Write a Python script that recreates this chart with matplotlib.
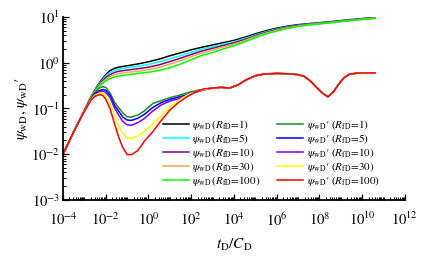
import numpy as np
import matplotlib
matplotlib.use('Agg')
from matplotlib import pyplot as plt
from matplotlib.ticker import LogLocator, NullFormatter, FixedLocator


# time grid for pressure curves, log10(tD/CD)
p_logt = [-4, -3.5, -3, -2.7, -2.4, -2.2, -2.0, -1.8, -1.6, -1.4, -1.2, -0.8, -0.4, 0, 0.5,
          1, 1.5, 2, 2.5, 3, 3.5, 4, 4.5, 5, 5.5, 6, 6.5, 7, 7.5, 8, 8.5, 9, 9.5, 10, 10.6]

p_r1 = [.0100, .031, .092, .178, .31, .42, .55, .67, .75, .80, .83, .89, .96, 1.05, 1.2,
        1.42, 1.65, 1.92, 2.18, 2.45, 2.75, 3.08, 3.6, 4.3, 5.0, 5.7, 6.3, 6.8, 7.15, 7.5, 7.9, 8.35, 8.8, 9.25, 9.8]
p_r5 = [.0100, .031, .091, .176, .30, .40, .51, .61, .68, .72, .75, .80, .85, .92, 1.04,
        1.22, 1.43, 1.70, 1.97, 2.25, 2.55, 2.88, 3.38, 4.05, 4.75, 5.45, 6.1, 6.6, 7.0, 7.35, 7.75, 8.2, 8.65, 9.1, 9.65]
p_r10 = [.0100, .031, .090, .173, .29, .38, .47, .55, .61, .65, .67, .71, .75, .80, .90,
         1.06, 1.26, 1.52, 1.80, 2.07, 2.38, 2.72, 3.2, 3.9, 4.6, 5.3, 5.95, 6.5, 6.9, 7.25, 7.65, 8.1, 8.55, 9.0, 9.55]
p_r30 = [.0100, .031, .089, .170, .28, .36, .43, .50, .55, .58, .60, .63, .66, .70, .79,
         .93, 1.11, 1.36, 1.63, 1.88, 2.2, 2.55, 3.05, 3.75, 4.45, 5.15, 5.8, 6.35, 6.8, 7.15, 7.55, 8.0, 8.45, 8.9, 9.45]
p_r100 = [.0100, .031, .088, .166, .27, .34, .40, .45, .49, .51, .53, .56, .59, .62, .68,
          .78, .94, 1.17, 1.45, 1.67, 2.0, 2.35, 2.85, 3.55, 4.25, 4.95, 5.6, 6.2, 6.65, 7.05, 7.45, 7.9, 8.35, 8.8, 9.3]

# time grid for derivative curves
d_logt = [-4, -3.5, -3, -2.7, -2.5, -2.3, -2.15, -2.0, -1.8, -1.6, -1.4, -1.2, -1.0, -0.8, -0.5,
          -0.2, 0.2, 0.6, 1.0, 1.4, 1.8, 2.2, 2.6, 3.0,
          3.4, 3.8, 4.2, 4.6, 5.0, 5.4, 6.0, 6.6, 7.0, 7.3, 7.6, 7.9, 8.15, 8.4, 8.65, 8.9,
          9.15, 9.4, 9.8, 10.2, 10.6]

# late time part is the same for every R
d_late = [.29, .28, .33, .43, .52, .565, .585, .57, .55, .50, .39, .28, .215, .18, .23, .34,
          .47, .56, .595, .60, .60]

d_r1 = [.0100, .031, .088, .165, .225, .28, .30, .29, .22, .14, .105, .08, .066, .065, .072,
        .088, .128, .15, .172, .193, .22, .245, .265, .28] + d_late
d_r5 = [.0100, .031, .088, .160, .21, .245, .26, .25, .195, .12, .088, .065, .056, .055, .061,
        .074, .105, .135, .158, .177, .20, .235, .26, .28] + d_late
d_r10 = [.0100, .031, .088, .158, .205, .23, .24, .225, .175, .105, .072, .052, .044, .043, .049,
         .060, .088, .12, .145, .163, .19, .225, .255, .278] + d_late
d_r30 = [.0100, .031, .087, .155, .195, .215, .22, .19, .13, .075, .042, .028, .023, .022, .025,
         .032, .045, .07, .105, .15, .195, .235, .26, .278] + d_late
d_r100 = [.0100, .031, .087, .150, .185, .20, .195, .16, .10, .048, .024, .014, .0098, .0098, .012,
          .019, .031, .055, .092, .135, .18, .232, .268, .28] + d_late

r_values = ['1', '5', '10', '30', '100']
p_series = [p_r1, p_r5, p_r10, p_r30, p_r100]
d_series = [d_r1, d_r5, d_r10, d_r30, d_r100]
p_colors = ['#000000', '#00FFFF', '#800080', '#FFA64D', '#00FF00']
d_colors = ['#1E8C1E', '#0000FF', '#7F00FF', '#FFFF00', '#FF0000']


def main():
    plt.rcParams['font.family'] = 'STIXGeneral'
    plt.rcParams['mathtext.fontset'] = 'stix'

    fig = plt.figure(figsize=(4.24, 2.61), dpi=100)
    ax = fig.add_axes([0.1486, 0.2337, 0.8064, 0.7012])

    pt = 10 ** np.array(p_logt)
    dt = 10 ** np.array(d_logt)

    handles = []
    for r, y, c in zip(r_values, p_series, p_colors):
        h, = ax.plot(pt, y, color=c, lw=1.1,
                     label=r'$\psi_{\rm wD}\,(R_{\rm fD}$=' + r + ')')
        handles.append(h)
    for r, y, c in zip(r_values, d_series, d_colors):
        h, = ax.plot(dt, y, color=c, lw=1.1,
                     label=r'$\psi_{\rm wD}$' + '\u2032' + r' ($R_{\rm fD}$=' + r + ')')
        handles.append(h)

    ax.set_xscale('log')
    ax.set_yscale('log')
    ax.set_xlim(1e-4, 1e12)
    ax.set_ylim(1e-3, 1e1)

    for s in ['top', 'right']:
        ax.spines[s].set_visible(False)
    for s in ['left', 'bottom']:
        ax.spines[s].set_linewidth(1.3)

    ax.xaxis.set_major_locator(FixedLocator([10.0 ** k for k in range(-4, 13, 2)]))
    ax.xaxis.set_minor_locator(LogLocator(base=10, subs=np.arange(1, 10), numticks=40))
    ax.xaxis.set_minor_formatter(NullFormatter())
    ax.yaxis.set_minor_locator(LogLocator(base=10, subs=np.arange(2, 10), numticks=20))
    ax.yaxis.set_minor_formatter(NullFormatter())

    ax.tick_params(which='both', direction='in', labelsize=10.5)
    ax.tick_params(which='major', length=4, width=0.9)
    ax.tick_params(which='minor', length=2.5, width=0.7)
    ax.tick_params(axis='x', pad=8)
    ax.tick_params(axis='y', pad=2)

    ax.set_xlabel(r'$t_{\rm D}/C_{\rm D}$', fontsize=11, labelpad=6)
    ax.set_ylabel(r'$\psi_{\rm wD},\,\psi_{\rm wD}$' + '\u2032', fontsize=11, labelpad=1)

    ax.legend(handles=handles, ncol=2, frameon=False, fontsize=8,
              loc='upper left', bbox_to_anchor=(163 / 424, 1 - 118 / 261),
              bbox_transform=fig.transFigure,
              handlelength=2.3, handletextpad=0.35, columnspacing=1.5,
              labelspacing=0.0, borderpad=0, borderaxespad=0)

    fig.savefig('out.png', dpi=100)


if __name__ == '__main__':
    main()
